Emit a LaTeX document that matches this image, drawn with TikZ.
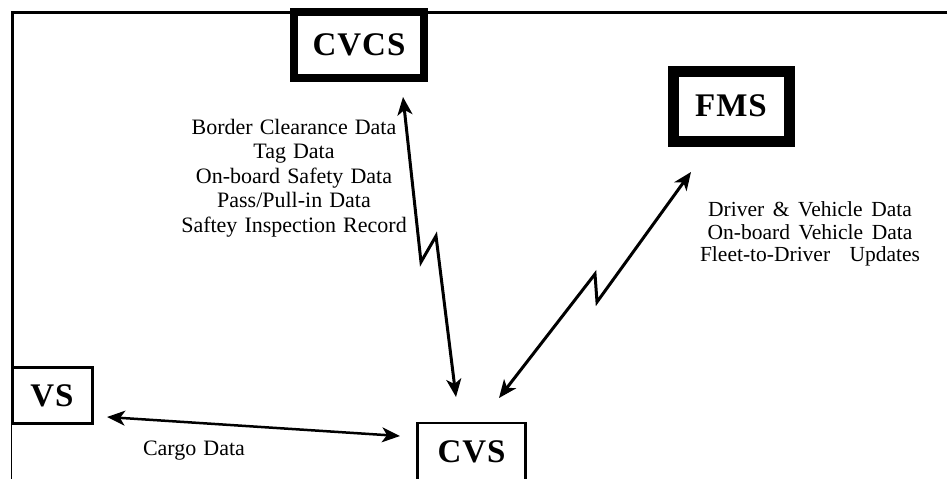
\documentclass[tikz,border=0pt]{standalone}
\usepackage{fontspec}
\setmainfont{Liberation Serif}
\usetikzlibrary{arrows.meta}
\begin{document}
\begin{tikzpicture}[x=1pt,y=-1pt,
  sysbox/.style={draw, inner sep=0pt, outer sep=0pt, align=center,
    font={\fontsize{33}{33}\selectfont\bfseries\addfontfeatures{LetterSpace=3}}},
  flowtxt/.style={inner sep=0pt, outer sep=0pt, align=center,
    font={\fontsize{22}{24.5}\selectfont\spaceskip=0.32em\relax}},
  link/.style={line width=3pt, line join=miter,
    {Stealth[length=18pt,width=15pt,inset=5pt]}-{Stealth[length=18pt,width=15pt,inset=5pt]}},
]
\useasboundingbox (0,0) rectangle (948,479);

% outer frame (top and left sides only)
\draw[line width=3pt, line join=miter] (947,12) -- (12,12) -- (12,367);
\draw[line width=1pt] (11,424) -- (11,479);

% systems
\node[sysbox, line width=8pt, minimum width=130pt, minimum height=66pt] (cvcs) at (359,45) {CVCS};
\node[sysbox, line width=11pt, minimum width=116pt, minimum height=70pt] (fms) at (731,106) {FMS};
\node[sysbox, line width=3pt, minimum width=80pt, minimum height=56pt] (vs) at (52,395.5) {VS};
\node[sysbox, line width=2.5pt, minimum width=108pt, text height=23pt, text depth=40pt,
      inner ysep=16pt, anchor=north] (cvs) at (471.5,423) {CVS};

% data flow labels
\node[flowtxt, anchor=north] (lblcvcs) at (294,119)
  {Border Clearance Data\\Tag Data\\On-board Safety Data\\Pass/Pull-in Data\\Saftey Inspection Record};
\node[flowtxt, anchor=north, font={\fontsize{21.5}{22.5}\selectfont\spaceskip=0.4em\relax}] (lblfms) at (810,202)
  {Driver \& Vehicle Data\\On-board Vehicle Data\\Fleet-to-Driver\hspace{0.5em} Updates};
\node[flowtxt, anchor=north] (lblcargo) at (194,441) {Cargo Data};

% link end points and bends
\coordinate (a1) at (403,97);
\coordinate (a2) at (421,262);
\coordinate (a3) at (436,236);
\coordinate (a4) at (456,397);
\coordinate (b1) at (691,172);
\coordinate (b2) at (597,302);
\coordinate (b3) at (595,274);
\coordinate (b4) at (499,398);
\coordinate (c1) at (107,417);
\coordinate (c2) at (400,436);

% wireless links (zigzag) and wired link
\draw[link] (a1) -- (a2) -- (a3) -- (a4);
\draw[link] (b1) -- (b2) -- (b3) -- (b4);
\draw[link, line width=2.5pt] (c1) -- (c2);
\end{tikzpicture}
\end{document}
